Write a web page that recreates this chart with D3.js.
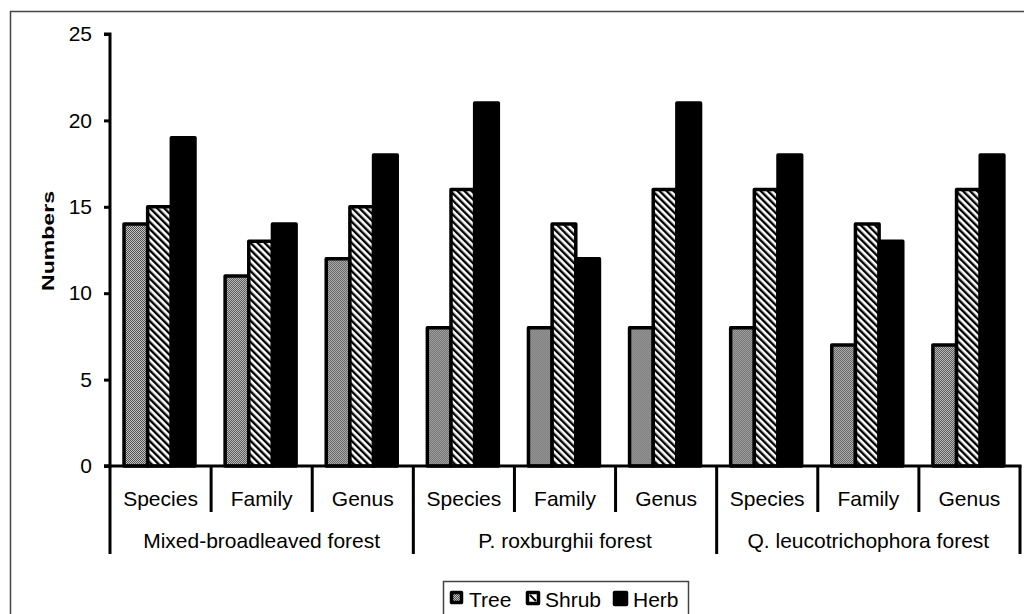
<!DOCTYPE html>
<html>
<head>
<meta charset="utf-8">
<script src="https://cdn.jsdelivr.net/npm/d3@7"></script>
<style>
  body { margin: 0; background: #fff; }
  svg { font-family: "Liberation Sans", Arial, sans-serif; }
</style>
</head>
<body>
<div></div>
<script>
var forests = ["Mixed-broadleaved forest", "P. roxburghii forest", "Q. leucotrichophora forest"];
var levels = ["Species", "Family", "Genus"];
var series = ["Tree", "Shrub", "Herb"];
var tree = [14, 11, 12, 8, 8, 8, 8, 7, 7];
var shrub = [15, 13, 15, 16, 14, 16, 16, 14, 16];
var herb = [19, 14, 18, 21, 12, 21, 18, 13, 18];
var yTicks = [0, 5, 10, 15, 20, 25];

var width = 1024,
    height = 614;

var svg = d3.select("div")
    .append("svg")
    .attr("width", width)
    .attr("height", height);

// patterns
var defs = svg.append("defs");
var pTree = defs.append("pattern")
    .attr("id", "pTree")
    .attr("patternUnits", "userSpaceOnUse")
    .attr("width", 2).attr("height", 2);
pTree.append("rect").attr("width", 2).attr("height", 2).attr("fill", "#c4c4c4");
pTree.append("rect").attr("width", 1).attr("height", 1).attr("fill", "#505050");
pTree.append("rect").attr("x", 1).attr("y", 1).attr("width", 1).attr("height", 1).attr("fill", "#505050");

var pShrub = defs.append("pattern")
    .attr("id", "pShrub")
    .attr("patternUnits", "userSpaceOnUse")
    .attr("width", 5).attr("height", 5)
    .attr("patternTransform", "rotate(-45)");
pShrub.append("rect").attr("width", 5).attr("height", 5).attr("fill", "#fff");
pShrub.append("rect").attr("width", 2.4).attr("height", 5).attr("fill", "#000");

var fills = {Tree: "url(#pTree)", Shrub: "url(#pShrub)", Herb: "#000"};

// outer frame (cut off on the right and bottom)
svg.append("rect")
    .attr("x", 10.5).attr("y", 11.5)
    .attr("width", 1100).attr("height", 700)
    .attr("fill", "none")
    .attr("stroke", "#444")
    .attr("stroke-width", 1.5);

var plotLeft = 110, plotRight = 1020, plotTop = 34, plotBase = 466;

var cats = [];
forests.forEach(function (f) {
    levels.forEach(function (l) { cats.push(f + "|" + l); });
});

var x = d3.scaleBand().domain(cats).range([plotLeft, plotRight]);
var xs = d3.scaleBand().domain(series).range([14, 85]);
var y = d3.scaleLinear().domain([0, 25]).range([plotBase, plotTop]);

var values = {Tree: tree, Shrub: shrub, Herb: herb};

// bars
var groups = svg.append("g")
    .selectAll("g")
    .data(cats)
    .enter().append("g")
    .attr("transform", function (d) { return "translate(" + x(d) + ",0)"; });

groups.selectAll("rect")
    .data(function (d, i) {
        return series.map(function (s) { return {s: s, v: values[s][i]}; });
    })
    .enter().append("rect")
    .attr("x", function (d) { return xs(d.s); })
    .attr("y", function (d) { return y(d.v); })
    .attr("width", xs.bandwidth())
    .attr("height", function (d) { return plotBase - y(d.v); })
    .attr("fill", function (d) { return fills[d.s]; })
    .attr("stroke", "#000")
    .attr("stroke-width", 3.5)
    .attr("stroke-linejoin", "round");

// y axis
var yAxis = svg.append("g")
    .attr("transform", "translate(" + plotLeft + ",0)")
    .call(d3.axisLeft(y).tickValues(yTicks).tickSize(6).tickPadding(12));
yAxis.select(".domain").attr("stroke-width", 3).attr("d", "M-6," + plotTop + "H0V" + plotBase + "H-6");
yAxis.selectAll(".tick line").attr("stroke-width", 3);
yAxis.selectAll(".tick text")
    .attr("font-size", 21)
    .attr("fill", "#000")
    .attr("font-family", "Liberation Sans, Arial, sans-serif");

svg.append("text")
    .attr("transform", "translate(54,241) rotate(-90)")
    .attr("text-anchor", "middle")
    .attr("font-size", 17)
    .attr("font-weight", "bold")
    .attr("textLength", 100)
    .attr("lengthAdjust", "spacingAndGlyphs")
    .text("Numbers");

// x axis
var xg = svg.append("g");
xg.append("line")
    .attr("x1", plotLeft - 6).attr("x2", plotRight + 1.5)
    .attr("y1", plotBase).attr("y2", plotBase)
    .attr("stroke", "#000").attr("stroke-width", 3);

var bounds = d3.range(cats.length + 1);
xg.selectAll("line.sep")
    .data(bounds)
    .enter().append("line")
    .attr("class", "sep")
    .attr("x1", function (i) { return plotLeft + i * x.step(); })
    .attr("x2", function (i) { return plotLeft + i * x.step(); })
    .attr("y1", plotBase)
    .attr("y2", function (i) { return i % 3 === 0 ? 554 : 512; })
    .attr("stroke", "#000")
    .attr("stroke-width", 3);

xg.selectAll("text.lvl")
    .data(cats)
    .enter().append("text")
    .attr("class", "lvl")
    .attr("x", function (d) { return x(d) + x.bandwidth() / 2; })
    .attr("y", 506)
    .attr("text-anchor", "middle")
    .attr("font-size", 21)
    .text(function (d) { return d.split("|")[1]; });

xg.selectAll("text.forest")
    .data(forests)
    .enter().append("text")
    .attr("class", "forest")
    .attr("x", function (d) { return x(d + "|Family") + x.bandwidth() / 2; })
    .attr("y", 548)
    .attr("text-anchor", "middle")
    .attr("font-size", 21)
    .text(function (d) { return d; });

// legend
var legend = svg.append("g");
legend.append("rect")
    .attr("x", 443.5).attr("y", 581.5)
    .attr("width", 245).attr("height", 50)
    .attr("fill", "#fff")
    .attr("stroke", "#444")
    .attr("stroke-width", 1.5);

var legX = [450, 526, 613];
var swSize = [13, 14, 15];
var items = legend.selectAll("g.item")
    .data(series)
    .enter().append("g")
    .attr("class", "item")
    .attr("transform", function (d, i) { return "translate(" + legX[i] + ",591)"; });

items.append("rect")
    .attr("x", 1.5).attr("y", 1.5)
    .attr("width", function (d, i) { return swSize[i] - 3; })
    .attr("height", function (d, i) { return swSize[i] - 3; })
    .attr("fill", function (d) { return d === "Shrub" ? "#fff" : fills[d]; })
    .attr("stroke", "#000")
    .attr("stroke-width", 3.5)
    .attr("stroke-linejoin", "round");
items.filter(function (d) { return d === "Shrub"; })
    .append("path")
    .attr("d", "M4,4L10,10")
    .attr("stroke", "#000")
    .attr("stroke-width", 2);
items.append("text")
    .attr("x", function (d, i) { return i === 0 ? 19 : (i === 1 ? 19 : 20); })
    .attr("y", 16)
    .attr("font-size", 21)
    .text(function (d) { return d; });
</script>
</body>
</html>
